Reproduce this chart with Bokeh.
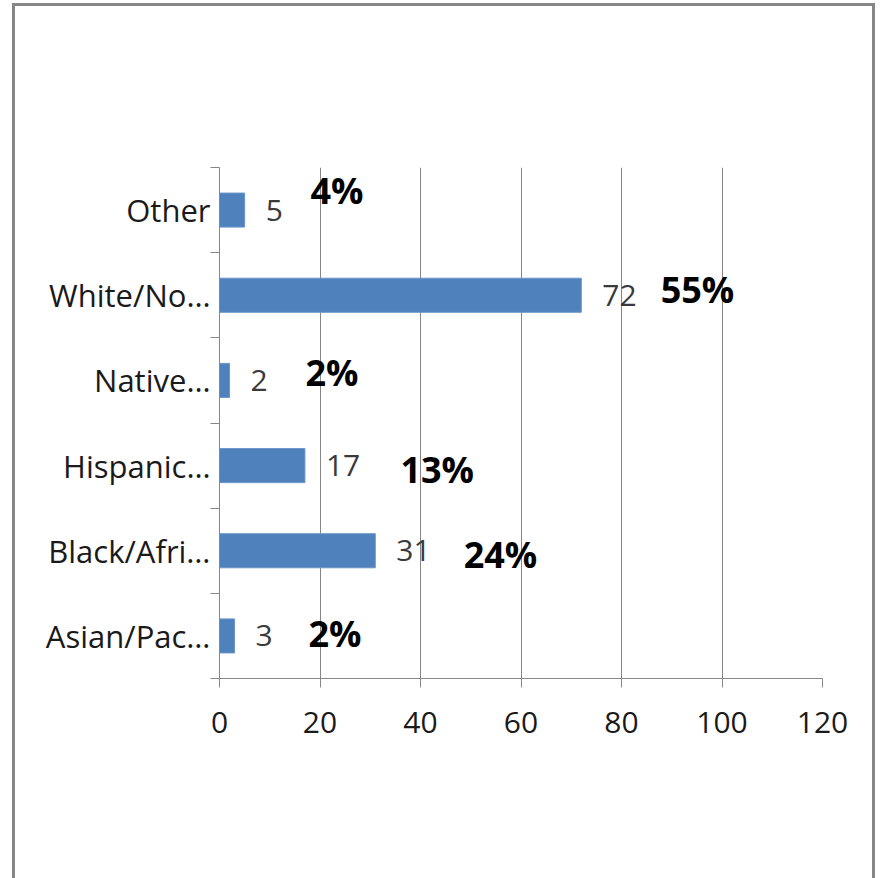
from bokeh.plotting import figure
from bokeh.models import Range1d, FixedTicker, ColumnDataSource, LabelSet
from bokeh.core.properties import value
from bokeh.embed import file_html
from bokeh.resources import INLINE

# ---- data ----
categories = ["Asian/Pac…", "Black/Afri…", "Hispanic…", "Native…", "White/No…", "Other"]
counts = [3, 31, 17, 2, 72, 5]
pct_labels = ["2%", "24%", "13%", "2%", "55%", "4%"]
x_ticks = [0, 20, 40, 60, 80, 100, 120]

# free-floating percentage text boxes (layout, in data units)
pct_label_x = [17.7, 48.6, 36.0, 17.1, 87.8, 18.1]
pct_label_dy = [0.03, -0.04, -0.05, 0.09, 0.07, 0.23]

FONT = "Open Sans"
GRAY = "#868686"
BAR = "#4F81BD"

ys = [i + 0.5 for i in range(len(categories))]
src = ColumnDataSource(dict(
    y=ys, count=counts, count_txt=[str(c) for c in counts],
    pct=pct_labels, px=pct_label_x, py=[y + d for y, d in zip(ys, pct_label_dy)],
))

# host box (incl. its 3px grey border): x 12..875, y 3..878
p = figure(width=863, height=875, output_backend="svg", toolbar_location=None,
           x_range=Range1d(0, 120), y_range=Range1d(0, len(categories)),
           min_border_left=204, min_border_right=56, min_border_top=161, min_border_bottom=203)
p.outline_line_color = None
p.background_fill_color = "white"
p.border_fill_color = "white"
# the grey frame around the whole picture
p.styles = {"margin-left": "12px", "margin-top": "3px",
            "border-left": "3px solid #878787", "border-top": "3px solid #878787",
            "border-right": "3px solid #878787", "border-bottom": "none"}

p.hbar(y="y", left=0, right="count", height=0.4, source=src,
       fill_color=BAR, line_color="#6A95C9", line_width=1)

# value labels
p.add_layout(LabelSet(x="count", y="y", text="count_txt", source=src,
                      x_offset=21, text_align="left", text_baseline="middle",
                      text_font=value(FONT), text_font_size="30px", text_color="#3a3a3a"))
# percentage labels
p.add_layout(LabelSet(x="px", y="py", text="pct", source=src,
                      text_align="left", text_baseline="middle",
                      text_font=value(FONT), text_font_size="36px", text_font_style="bold",
                      text_color="black"))

# x axis
p.xaxis.ticker = FixedTicker(ticks=x_ticks)
p.xaxis.axis_line_color = GRAY
p.xaxis.major_tick_line_color = GRAY
p.xaxis.major_tick_out = 9
p.xaxis.major_tick_in = 0
p.xaxis.minor_tick_line_color = None
p.xaxis.major_label_standoff = 24
p.xaxis.major_label_text_font = FONT
p.xaxis.major_label_text_font_size = "30px"
p.xaxis.major_label_text_color = "#1a1a1a"

# y axis: labels at centres, small ticks at category boundaries
p.yaxis.ticker = FixedTicker(ticks=ys, minor_ticks=list(range(len(categories) + 1)))
p.yaxis.major_label_overrides = {y: c for y, c in zip(ys, categories)}
p.yaxis.axis_line_color = GRAY
p.yaxis.major_tick_line_color = None
p.yaxis.major_tick_out = 0
p.yaxis.major_tick_in = 0
p.yaxis.minor_tick_line_color = GRAY
p.yaxis.minor_tick_out = 9
p.yaxis.minor_tick_in = 0
p.yaxis.major_label_standoff = 0
p.yaxis.major_label_text_font = FONT
p.yaxis.major_label_text_font_size = "31px"
p.yaxis.major_label_text_color = "#1a1a1a"

# grid
p.xgrid.ticker = FixedTicker(ticks=x_ticks[1:])
p.xgrid.grid_line_color = GRAY
p.ygrid.visible = False

open("out.html", "w").write(file_html(p, INLINE))
